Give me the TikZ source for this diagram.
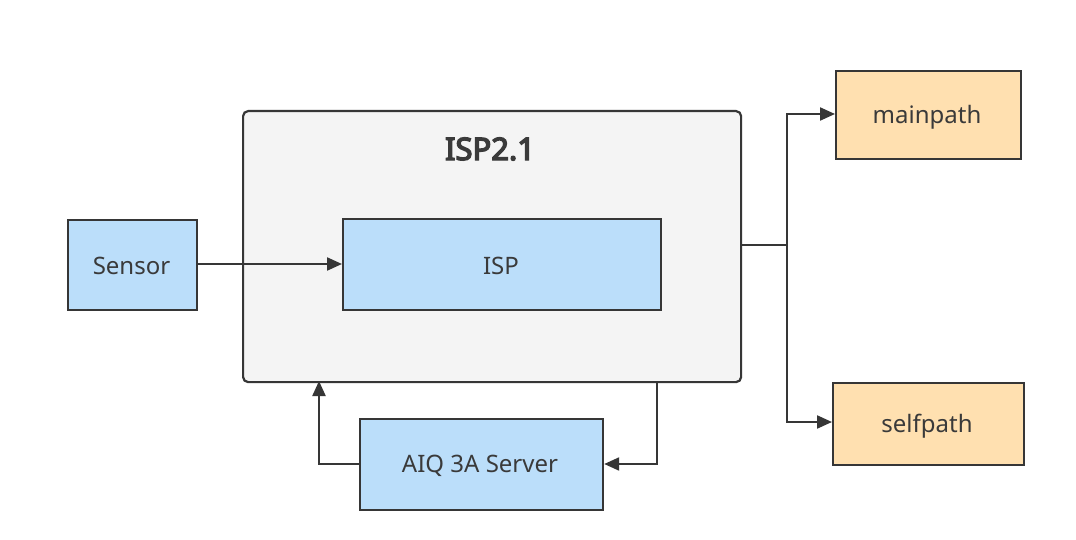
\documentclass[tikz,border=0pt]{standalone}
\usepackage{fontspec}
\setmainfont{Noto Sans}
\newfontfamily\titlefont{Noto Sans}[FakeBold=4.5]
\usetikzlibrary{arrows.meta,positioning}
\definecolor{lineC}{HTML}{363636}
\definecolor{textC}{HTML}{3A3A3A}
\definecolor{blueF}{HTML}{BBDEFA}
\definecolor{orangeF}{HTML}{FFE0B0}
\definecolor{grayF}{HTML}{F4F4F4}
\tikzset{
  box/.style={draw=lineC, line width=2.2pt, text=textC, font=\fontsize{24}{28}\selectfont, inner sep=0pt, anchor=north west},
  bluebox/.style={box, fill=blueF},
  orangebox/.style={box, fill=orangeF},
  lbl/.style={text=textC, font=\fontsize{24}{28}\selectfont},
  conn/.style={draw=lineC, line width=2.2pt, -{Triangle[length=15pt,width=13pt]}},
  plain/.style={draw=lineC, line width=2.2pt},
}
\begin{document}
\begin{tikzpicture}[x=1pt,y=-1pt]
\useasboundingbox (0,0) rectangle (1076,540);
\fill[white] (0,0) rectangle (1076,540);
% outer ISP2.1 container
\node[box, fill=grayF, rounded corners=5pt, minimum width=498pt, minimum height=271pt] (outer) at (242,110) {};
\node[text=textC, font=\titlefont\fontsize{31}{34}\selectfont] (title) at (490,149) {ISP2.1};
\node[bluebox, minimum width=318pt, minimum height=91pt] (isp) at (342,218) {};
\node[lbl] (isplabel) at (501,266) {ISP};
\node[bluebox, minimum width=129pt, minimum height=90pt] (sensor) at (67,219) {};
\node[lbl] (sensorlabel) at (131.5,266) {Sensor};
\node[bluebox, minimum width=243pt, minimum height=91pt] (aiq) at (359,418) {};
\node[lbl] (aiqlabel) at (480,466) {AIQ 3A Server};
\node[orangebox, minimum width=185pt, minimum height=88pt] (main) at (835,70) {};
\node[lbl] (mainlabel) at (927,117) {mainpath};
\node[orangebox, minimum width=191pt, minimum height=82pt] (self) at (832,382) {};
\node[lbl] (selflabel) at (927,426) {selfpath};
% connectors
\coordinate (j) at (787,245);
\draw[conn] (sensor.east |- 0,264) -- (isp.west |- 0,264);
\draw[plain] (outer.east |- j) -- (j);
\draw[conn] (j) -- (787,114) -- (main.west |- 0,114);
\draw[conn] (j) -- (787,422) -- (self.west |- 0,422);
\draw[conn] (657,381) -- (657,464) -- (aiq.east |- 0,464);
\draw[conn] (aiq.west |- 0,464) -- (319,464) -- (319,381);
\end{tikzpicture}
\end{document}
